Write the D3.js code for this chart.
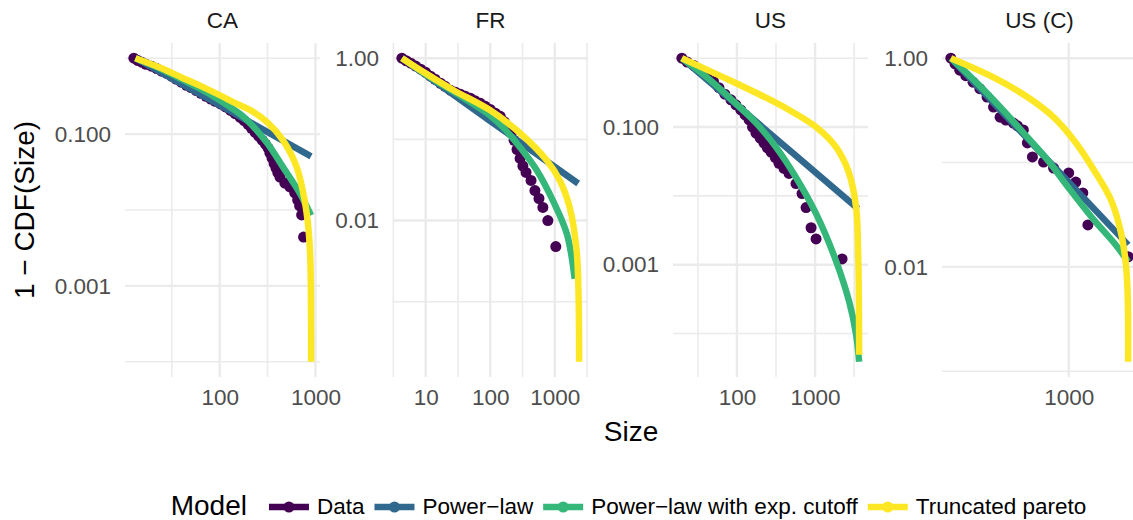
<!DOCTYPE html>
<html><head><meta charset="utf-8">
<script src="https://cdn.jsdelivr.net/npm/d3@7"></script>
<style>body{margin:0;background:#fff} text{font-family:"Liberation Sans",Arial,sans-serif}</style>
</head><body><svg id="chart" width="1133" height="520"></svg>
<script>
// ---------- data ----------
const panelNames = ["CA", "FR", "US", "US (C)"];
const seriesNames = ["Data", "Power\u2212law", "Power\u2212law with exp. cutoff", "Truncated pareto"];
const seriesColors = ["#440154", "#31688E", "#35B779", "#FDE725"];

// CA
const caData = [[12.7,1.0],[14,0.93],[15.3,0.885],[17,0.83],[19.4,0.785],[22,0.73],[24.7,0.675],[28,0.63],[31.3,0.58],[35,0.53],[39.6,0.483],[45,0.44],[50.2,0.41],[57,0.375],[63.7,0.345],[72,0.315],[80.7,0.29],[90,0.27],[102,0.25],[115,0.228],[130,0.205],[145,0.186],[164,0.166],[180,0.15],[199,0.133],[215,0.119],[235,0.105],[255,0.094],[277,0.0834],[300,0.074],[320,0.0655],[335,0.056],[352,0.0483],[370,0.041],[387,0.0357],[405,0.031],[426,0.0272],[479,0.0226],[540,0.0201],[608,0.0168],[652,0.0135],[684,0.0113],[718,0.0086],[752,0.0044]];
const caPowerLaw = [[13.2,1.0],[100,0.24],[900,0.051]];
const caCutoff = [[13.2,1.0],[24.7,0.716],[39.6,0.53],[63.7,0.391],[100,0.28],[164,0.183],[209,0.138],[313,0.0762],[457,0.037],[684,0.0168],[900,0.0085]];
const caTruncated = [[13.2,1.0],[24.7,0.738],[39.6,0.562],[63.7,0.428],[100,0.326],[146,0.256],[209,0.207],[313,0.144],[457,0.0834],[637,0.0368],[771,0.0135],[848,0.00546],[885,0.0022],[898,0.00065],[902,0.0001]];
const caXTicks = [10, 100, 1000];
const caXMinor = [31.62, 316.2];
const caYTicks = [0.1, 0.001];
const caYLabels = ["0.100", "0.001"];
const caYMinor = [1, 0.01, 0.0001];

// FR
const frData = [[4.28,1.0],[5.0,0.93],[5.88,0.867],[7,0.80],[8.38,0.731],[10,0.67],[11.9,0.6],[14,0.55],[17,0.491],[20,0.45],[24.2,0.403],[29,0.38],[34.5,0.36],[41,0.34],[49.2,0.321],[58,0.30],[70.2,0.278],[84,0.255],[100,0.234],[120,0.21],[143,0.192],[165,0.165],[189,0.141],[210,0.12],[234,0.0972],[260,0.075],[290,0.0582],[320,0.047],[358,0.0392],[428,0.0312],[492,0.0234],[568,0.0187],[653,0.0145],[780,0.01],[1035,0.00478]];
const frPowerLaw = [[4.3,1.0],[100,0.168],[2300,0.0286]];
const frCutoff = [[4.3,1.0],[10,0.63],[27,0.385],[90,0.209],[158,0.141],[290,0.0796],[528,0.0414],[931,0.0177],[1531,0.00692],[2032,0.00192]];
const frTruncated = [[4.3,1.0],[10,0.65],[27,0.403],[100,0.228],[290,0.119],[753,0.055],[1194,0.0312],[1702,0.0145],[2178,0.00426],[2339,0.00103],[2380,0.000182]];
const frXTicks = [10, 100, 1000];
const frXMinor = [3.162, 31.62, 316.2, 3162];
const frYTicks = [1, 0.01];
const frYLabels = ["1.00", "0.01"];
const frYMinor = [0.1, 0.001];

// US
const usData = [[19.7,1.0],[23,0.88],[28.1,0.782],[34,0.66],[41.2,0.558],[50,0.46],[58.8,0.373],[70,0.30],[83.8,0.248],[97,0.21],[112,0.177],[127,0.15],[143,0.127],[158,0.10],[175,0.0817],[198,0.069],[222,0.0583],[245,0.05],[273,0.0431],[310,0.036],[345,0.0297],[400,0.025],[464,0.0212],[570,0.0151],[681,0.0108],[767,0.00675],[889,0.00344],[1030,0.00237],[2218,0.00121]];
const usPowerLaw = [[19.7,1.0],[100,0.207],[3550,0.0065]];
const usCutoff = [[19.7,1.0],[40.1,0.54],[86.3,0.248],[175,0.115],[316,0.051],[570,0.0185],[1030,0.00551],[1858,0.00113],[2729,0.000293],[3357,0.0000964],[3667,0.0000388]];
const usTruncated = [[19.7,1.0],[64.2,0.54],[175,0.315],[464,0.177],[1030,0.1],[1858,0.051],[2729,0.0212],[3357,0.00675],[3556,0.00158],[3640,0.000293],[3667,0.0000491]];
const usXTicks = [10, 100, 1000];
const usXMinor = [31.62, 316.2, 3162];
const usYTicks = [0.1, 0.001];
const usYLabels = ["0.100", "0.001"];
const usYMinor = [1, 0.01, 0.0001];

// US (C)
const uscData = [[136,1.0],[146,0.88],[158,0.768],[175,0.68],[198,0.589],[222,0.51],[251,0.424],[280,0.34],[313,0.272],[345,0.255],[392,0.239],[420,0.225],[464,0.205],[497,0.154],[541,0.113],[653,0.101],[774,0.0886],[1000,0.0794],[1127,0.065],[1270,0.0511],[1384,0.0252],[2735,0.0125]];
const uscPowerLaw = [[136,1.0],[1000,0.065],[2735,0.01625]];
const uscCutoff = [[136,1.0],[212,0.576],[313,0.34],[497,0.175],[698,0.106],[1000,0.057],[1531,0.0282],[2153,0.017],[2735,0.0112]];
const uscTruncated = [[136,1.0],[278,0.658],[497,0.424],[774,0.272],[1089,0.164],[1531,0.0848],[2046,0.0438],[2427,0.0211],[2644,0.01],[2720,0.00483],[2735,0.00123]];
const uscXTicks = [1000];
const uscXMinor = [];
const uscYTicks = [1, 0.01];
const uscYLabels = ["1.00", "0.01"];
const uscYMinor = [0.1, 0.001];

// ---------- drawing ----------
const panels = [
  {data: caData, lines: [caPowerLaw, caCutoff, caTruncated], xt: caXTicks, xm: caXMinor, yt: caYTicks, yl: caYLabels, ym: caYMinor},
  {data: frData, lines: [frPowerLaw, frCutoff, frTruncated], xt: frXTicks, xm: frXMinor, yt: frYTicks, yl: frYLabels, ym: frYMinor},
  {data: usData, lines: [usPowerLaw, usCutoff, usTruncated], xt: usXTicks, xm: usXMinor, yt: usYTicks, yl: usYLabels, ym: usYMinor},
  {data: uscData, lines: [uscPowerLaw, uscCutoff, uscTruncated], xt: uscXTicks, xm: uscXMinor, yt: uscYTicks, yl: uscYLabels, ym: uscYMinor}
];

const svg = d3.select("#chart");
const panelLefts = [125, 393, 673, 942];
const pw = 195, pTop = 43, pBottom = 377;
const grid = "#EBEBEB";
const small = 22.5, big = 28;

panels.forEach((p, i) => {
  const L = panelLefts[i];
  const all = [p.data, ...p.lines].flat();
  const xe = d3.extent(all, d => Math.log10(d[0]));
  const ye = d3.extent(all, d => Math.log10(d[1]));
  const xp = (xe[1] - xe[0]) * 0.05, yp = (ye[1] - ye[0]) * 0.05;
  const x = d3.scaleLog().domain([10 ** (xe[0] - xp), 10 ** (xe[1] + xp)]).range([L, L + pw]);
  const y = d3.scaleLog().domain([10 ** (ye[0] - yp), 10 ** (ye[1] + yp)]).range([pBottom, pTop]);
  const inX = v => v >= x.domain()[0] && v <= x.domain()[1];
  const inY = v => v >= y.domain()[0] && v <= y.domain()[1];

  const g = svg.append("g");
  g.selectAll(".ym").data(p.ym.filter(inY)).join("line")
    .attr("x1", L).attr("x2", L + pw).attr("y1", d => y(d)).attr("y2", d => y(d))
    .attr("stroke", grid).attr("stroke-width", 1.6);
  g.selectAll(".xm").data(p.xm.filter(inX)).join("line")
    .attr("y1", pTop).attr("y2", pBottom).attr("x1", d => x(d)).attr("x2", d => x(d))
    .attr("stroke", grid).attr("stroke-width", 1.6);
  g.selectAll(".yM").data(p.yt.filter(inY)).join("line")
    .attr("x1", L).attr("x2", L + pw).attr("y1", d => y(d)).attr("y2", d => y(d))
    .attr("stroke", grid).attr("stroke-width", 2.4);
  g.selectAll(".xM").data(p.xt.filter(inX)).join("line")
    .attr("y1", pTop).attr("y2", pBottom).attr("x1", d => x(d)).attr("x2", d => x(d))
    .attr("stroke", grid).attr("stroke-width", 2.4);

  const xa = d3.axisBottom(x).tickValues(p.xt.filter(inX)).tickFormat(d3.format("d")).tickSize(0).tickPadding(12);
  const gx = g.append("g").attr("transform", `translate(0,${pBottom})`).call(xa);
  const labelMap = new Map(p.yt.map((v, k) => [v, p.yl[k]]));
  const ya = d3.axisLeft(y).tickValues(p.yt.filter(inY)).tickFormat(d => labelMap.get(d)).tickSize(0).tickPadding(14);
  const gy = g.append("g").attr("transform", `translate(${L},0)`).call(ya);
  [gx, gy].forEach(a => {
    a.select(".domain").remove();
    a.selectAll("text").attr("fill", "#4D4D4D").style("font-size", small + "px").style("font-family", '"Liberation Sans",Arial,sans-serif');
  });

  g.append("text").attr("x", L + pw / 2).attr("y", 28).attr("text-anchor", "middle")
    .attr("fill", "#1A1A1A").style("font-size", small + "px").text(panelNames[i]);

  const cid = "clip" + i;
  svg.append("clipPath").attr("id", cid).append("rect").attr("x", L).attr("y", pTop).attr("width", pw).attr("height", pBottom - pTop);
  const pg = g.append("g").attr("clip-path", `url(#${cid})`);

  pg.selectAll("circle").data(p.data).join("circle")
    .attr("cx", d => x(d[0])).attr("cy", d => y(d[1])).attr("r", 5.5).attr("fill", seriesColors[0]);
  const line = d3.line().x(d => x(d[0])).y(d => y(d[1])).curve(d3.curveCatmullRom.alpha(0.5));
  p.lines.forEach((ln, k) => {
    pg.append("path").attr("d", line(ln)).attr("fill", "none")
      .attr("stroke", seriesColors[k + 1]).attr("stroke-width", 6.5);
  });
});

svg.append("text").attr("x", 631).attr("y", 441).attr("text-anchor", "middle")
  .style("font-size", big + "px").attr("fill", "#000").text("Size");
svg.append("text").attr("transform", "translate(34,210) rotate(-90)").attr("text-anchor", "middle")
  .style("font-size", big + "px").attr("fill", "#000").text("1 \u2212 CDF(Size)");

const lg = svg.append("g");
const title = lg.append("text").attr("y", 515).style("font-size", big + "px").attr("fill", "#000").text("Model");
const keyW = 40, keyGap = 8, itemGap = 10, titleGap = 22, keyY = 507;
const labels = seriesNames.map(n => lg.append("text").attr("y", 514).style("font-size", small + "px").attr("fill", "#000").text(n));
const tw = title.node().getComputedTextLength();
const lws = labels.map(t => t.node().getComputedTextLength());
const total = tw + titleGap + d3.sum(lws) + 4 * (keyW + keyGap) + 3 * itemGap;
let cx = 628.5 - total / 2;
title.attr("x", cx);
cx += tw + titleGap;
seriesNames.forEach((n, k) => {
  lg.append("line").attr("x1", cx).attr("x2", cx + keyW).attr("y1", keyY).attr("y2", keyY)
    .attr("stroke", seriesColors[k]).attr("stroke-width", 6.5);
  lg.append("circle").attr("cx", cx + keyW / 2).attr("cy", keyY).attr("r", 5.5).attr("fill", seriesColors[k]);
  cx += keyW + keyGap;
  labels[k].attr("x", cx);
  cx += lws[k] + itemGap;
});
</script></body></html>
